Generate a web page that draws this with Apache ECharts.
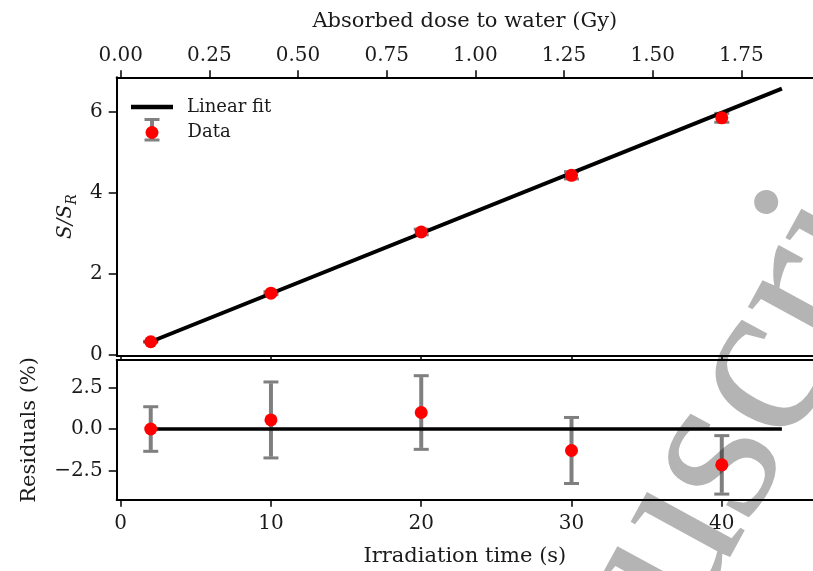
<!DOCTYPE html>
<html>
<head>
<meta charset="utf-8">
<script src="https://cdn.jsdelivr.net/npm/echarts@6/dist/echarts.min.js"></script>
<style>html,body{margin:0;padding:0;background:#fff;}#chart{width:813px;height:571px;}</style>
</head>
<body>
<div id="chart"></div>
<script>
// ---- data ----
const timePoints = [2, 10, 20, 30, 40];                 // irradiation time (s)
const ratioValues = [0.32, 1.52, 3.03, 4.43, 5.85];      // S/S_R
const ratioErrors = [0.01, 0.035, 0.07, 0.09, 0.11];
const residualValues = [0.0, 0.55, 1.0, -1.3, -2.17];   // residuals (%)
const residualErrors = [1.35, 2.3, 2.23, 2.0, 1.77];
const fitTimes = [2, 44];
const fitValues = [0.32, 6.57];
const residualFitValues = [0, 0];
const timeTicks = [0, 10, 20, 30, 40];
const doseTicks = [0, 0.25, 0.5, 0.75, 1.0, 1.25, 1.5, 1.75];
const ratioTicks = [0, 2, 4, 6];
const residualTicks = [-2.5, 0, 2.5];
const doseRate = 0.042369; // Gy per s (top axis mapping)

// ---- layout ----
const FONT = 'DejaVu Serif';
const TXT = '#1a1a1a';
const ERR = 'rgba(0,0,0,0.5)';
const tMin = -0.265, tMax = 46.07;
const axisLine = {show: true, onZero: false, lineStyle: {color: '#000', width: 2}};
const minus = v => String(v).replace('-', '\u2212');

const scatterData = timePoints.map((t, i) => [t, ratioValues[i]]);
const ratioErrData = timePoints.map((t, i) => [t, ratioValues[i], ratioErrors[i]]);
const resData = timePoints.map((t, i) => [t, residualValues[i]]);
const resErrData = timePoints.map((t, i) => [t, residualValues[i], residualErrors[i]]);
const fitData = fitTimes.map((t, i) => [t, fitValues[i]]);
const resFitData = fitTimes.map((t, i) => [t, residualFitValues[i]]);

function errRender(params, api) {
  const x = api.value(0), y = api.value(1), e = api.value(2);
  const top = api.coord([x, y + e]);
  const bot = api.coord([x, y - e]);
  const hw = 7.5;
  return {
    type: 'group',
    children: [
      {type: 'polyline', shape: {points: [[top[0], top[1] + 1.5], [bot[0], bot[1] - 1.5]]}, style: {stroke: ERR, lineWidth: 4, fill: null}},
      {type: 'line', shape: {x1: top[0] - hw, y1: top[1], x2: top[0] + hw, y2: top[1]}, style: {stroke: ERR, lineWidth: 3}},
      {type: 'line', shape: {x1: bot[0] - hw, y1: bot[1], x2: bot[0] + hw, y2: bot[1]}, style: {stroke: ERR, lineWidth: 3}}
    ]
  };
}

const chart = echarts.init(document.getElementById('chart'), null, {renderer: 'canvas'});
const option = {
  animation: false,
  backgroundColor: '#fff',
  textStyle: {fontFamily: FONT, color: TXT},
  grid: [
    {left: 116.7, top: 77.3, width: 700, height: 278.7},
    {left: 116.7, top: 360, width: 700, height: 139.7}
  ],
  legend: [
    {
      data: [{name: 'Linear fit', icon: 'rect'}],
      left: 131, top: 98, padding: 0,
      itemWidth: 42, itemHeight: 4.5,
      textStyle: {fontFamily: FONT, fontSize: 18, color: TXT, padding: [0, 0, 0, 9]}
    },
    {
      data: [{name: 'Data', icon: 'circle'}],
      left: 145.5, top: 123.5, padding: 0,
      itemWidth: 13, itemHeight: 13,
      textStyle: {fontFamily: FONT, fontSize: 18, color: TXT, padding: [0, 0, 0, 24]}
    }
  ],
  xAxis: [
    { // top panel, bottom edge (ticks only)
      type: 'value', gridIndex: 0, position: 'bottom', min: tMin, max: tMax,
      axisLine: axisLine,
      axisTick: {show: true, length: 4, lineStyle: {color: '#000', width: 1.5}, customValues: timeTicks},
      axisLabel: {show: false}, splitLine: {show: false}
    },
    { // top panel, dose axis
      type: 'value', gridIndex: 0, position: 'top',
      min: tMin * doseRate, max: tMax * doseRate,
      name: 'Absorbed dose to water (Gy)', nameLocation: 'middle', nameGap: 45,
      nameTextStyle: {fontFamily: FONT, fontSize: 21, color: TXT},
      axisLine: axisLine,
      axisTick: {show: true, length: 7, lineStyle: {color: '#000', width: 1.5}, customValues: doseTicks},
      axisLabel: {show: true, margin: 12, fontFamily: FONT, fontSize: 20, color: TXT,
        customValues: doseTicks, formatter: v => v.toFixed(2)},
      splitLine: {show: false}
    },
    { // bottom panel time axis
      type: 'value', gridIndex: 1, position: 'bottom', min: tMin, max: tMax,
      name: 'Irradiation time (s)', nameLocation: 'middle', nameGap: 46,
      nameTextStyle: {fontFamily: FONT, fontSize: 21, color: TXT},
      axisLine: axisLine,
      axisTick: {show: true, length: 7, lineStyle: {color: '#000', width: 1.5}, customValues: timeTicks},
      axisLabel: {show: true, margin: 14, fontFamily: FONT, fontSize: 20, color: TXT,
        customValues: timeTicks, formatter: v => String(v)},
      splitLine: {show: false}
    },
    { // bottom panel top border
      type: 'value', gridIndex: 1, position: 'top', min: tMin, max: tMax,
      axisLine: axisLine, axisTick: {show: false}, axisLabel: {show: false}, splitLine: {show: false}
    }
  ],
  yAxis: [
    {
      type: 'value', gridIndex: 0, min: -0.032, max: 6.85,
      name: '{i|S/S}{s|R}', nameLocation: 'middle', nameGap: 23,
      nameTextStyle: {
        color: TXT,
        rich: {
          i: {fontFamily: FONT, fontStyle: 'italic', fontSize: 20, color: TXT, lineHeight: 26},
          s: {fontFamily: FONT, fontStyle: 'italic', fontSize: 14, color: TXT, lineHeight: 26, verticalAlign: 'bottom', padding: [8, 0, 0, 0]}
        }
      },
      axisLine: axisLine,
      axisTick: {show: true, length: 8, lineStyle: {color: '#000', width: 1.5}, customValues: ratioTicks},
      axisLabel: {show: true, margin: 14, fontFamily: FONT, fontSize: 20, color: TXT,
        customValues: ratioTicks, formatter: v => String(v)},
      splitLine: {show: false}
    },
    {
      type: 'value', gridIndex: 1, min: -4.28, max: 4.18,
      name: 'Residuals (%)', nameLocation: 'middle', nameGap: 77,
      nameTextStyle: {fontFamily: FONT, fontSize: 21, color: TXT},
      axisLine: axisLine,
      axisTick: {show: true, length: 8, lineStyle: {color: '#000', width: 1.5}, customValues: residualTicks},
      axisLabel: {show: true, margin: 14, fontFamily: FONT, fontSize: 20, color: TXT,
        customValues: residualTicks, formatter: v => minus(v.toFixed(1))},
      splitLine: {show: false}
    }
  ],
  series: [
    {
      name: 'Data', type: 'custom', xAxisIndex: 0, yAxisIndex: 0, z: 1,
      renderItem: errRender, data: ratioErrData, itemStyle: {color: '#ff0000'}
    },
    {
      name: 'Linear fit', type: 'line', xAxisIndex: 0, yAxisIndex: 0, z: 2,
      data: fitData, symbol: 'none', lineStyle: {color: '#000', width: 4}, itemStyle: {color: '#000'}
    },
    {
      name: 'Data', type: 'scatter', xAxisIndex: 0, yAxisIndex: 0, z: 3,
      data: scatterData, symbolSize: 13, itemStyle: {color: '#ff0000', opacity: 1}
    },
    {
      name: 'ResErr', type: 'custom', xAxisIndex: 2, yAxisIndex: 1, z: 1,
      renderItem: errRender, data: resErrData
    },
    {
      name: 'ResFit', type: 'line', xAxisIndex: 2, yAxisIndex: 1, z: 2,
      data: resFitData, symbol: 'none', lineStyle: {color: '#000', width: 3.5}
    },
    {
      name: 'ResData', type: 'scatter', xAxisIndex: 2, yAxisIndex: 1, z: 3,
      data: resData, symbolSize: 13, itemStyle: {color: '#ff0000', opacity: 1}
    }
  ],
  graphic: [
    {
      type: 'text', silent: true, z: -10, x: 640, y: 598, rotation: 61.4 * Math.PI / 180,
      style: {text: 'uscript', font: '227px "Liberation Serif"', fill: '#b4b4b4', align: 'left', verticalAlign: 'middle'}
    },
    {type: 'line', silent: true, z: 0, shape: {x1: 152, y1: 118.5, x2: 152, y2: 141}, style: {stroke: '#808080', lineWidth: 4}},
    {type: 'line', silent: true, z: 0, shape: {x1: 144.5, y1: 119.5, x2: 159.5, y2: 119.5}, style: {stroke: '#808080', lineWidth: 3}},
    {type: 'line', silent: true, z: 0, shape: {x1: 144.5, y1: 140, x2: 159.5, y2: 140}, style: {stroke: '#808080', lineWidth: 3}}
  ]
};
chart.setOption(option);
</script>
</body>
</html>
